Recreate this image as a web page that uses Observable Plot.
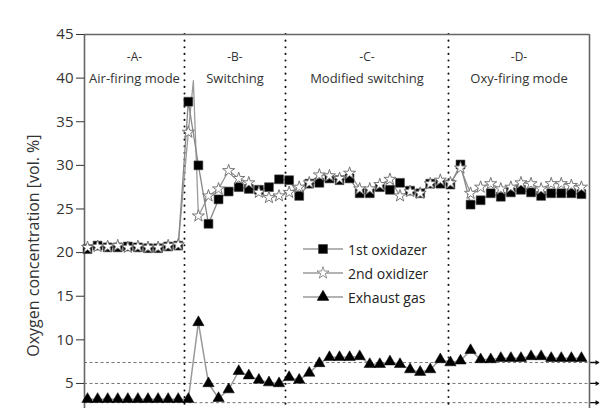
<!DOCTYPE html>
<html><head><meta charset="utf-8">
<script src="https://cdn.jsdelivr.net/npm/d3@7"></script>
<script src="https://cdn.jsdelivr.net/npm/@observablehq/plot@0.6"></script>
<style>
body{margin:0;background:#fff;}
#chart{position:relative;width:606px;height:408px;overflow:hidden;font-family:"Open Sans",sans-serif;}
#legend{position:absolute;left:302px;top:237px;}
.row{display:flex;align-items:center;height:24px;font-size:14px;color:#222;}
.row svg{margin-right:4px;display:block;}
</style></head><body><div id="chart"></div>
<script>
// ---- data ----
const sectionTags = ["-A-", "-B-", "-C-", "-D-"];
const sectionNames = ["Air-firing mode", "Switching", "Modified switching", "Oxy-firing mode"];
const boundaries = [9.62, 19.64, 35.81];
const refLevels = [7.4, 5.0, 2.8];
const yTicks = [5, 10, 15, 20, 25, 30, 35, 40, 45];
const seriesNames = ["1st oxidazer", "2nd oxidizer", "Exhaust gas"];
const yLabel = "Oxygen concentration [vol. %]";

const oxid1 = [20.4, 20.8, 20.6, 20.6, 20.7, 20.6, 20.5, 20.5, 20.7, 20.8,
  37.3, 30.0, 23.3, 26.1, 27.0, 27.5, 27.3, 27.2, 27.5, 28.4, 28.3,
  26.5, 27.9, 28.0, 28.5, 28.3, 28.5, 26.8, 26.8, 27.5, 27.2, 28.0, 27.1, 26.8, 27.9, 27.9, 27.8,
  30.1, 25.5, 26.0, 26.8, 26.4, 26.9, 27.2, 26.9, 26.5, 26.8, 26.8, 26.8, 26.7];
const oxid2 = [20.6, 20.7, 20.7, 20.8, 20.6, 20.7, 20.6, 20.6, 20.8, 20.9,
  33.8, 24.2, 26.5, 27.3, 29.4, 28.5, 28.0, 26.9, 26.3, 26.5, 26.9,
  27.5, 28.0, 28.9, 28.8, 28.5, 29.1, 27.3, 27.3, 27.8, 28.4, 26.5, 27.0, 26.8, 27.9, 28.3, 28.0,
  29.7, 26.8, 27.5, 27.9, 27.3, 27.5, 28.0, 27.9, 27.3, 27.9, 27.9, 27.7, 27.5];
const oxid2SpikeX = 10.5, oxid2SpikeY = 39.7;
const exhaust = [3.2, 3.2, 3.2, 3.2, 3.2, 3.2, 3.2, 3.2, 3.2, 3.2, 3.2,
  12.0, 5.0, 3.3, 4.3, 6.4, 5.9, 5.4, 5.1, 5.0, 5.7,
  5.4, 6.2, 7.3, 8.0, 8.0, 8.0, 8.1, 7.2, 7.2, 7.5,
  7.2, 6.6, 6.3, 6.6, 7.75, 7.4, 7.6, 8.8, 7.75, 7.75,
  7.9, 7.9, 7.9, 8.1, 8.1, 7.9, 7.9, 7.9, 7.9];

// ---- build ----
const xDomain = [-0.3, 49.8];
const s1 = oxid1.map((v, i) => ({x: i, y: v}));
const s2 = oxid2.map((v, i) => ({x: i, y: v}));
const s2line = [...s2, {x: oxid2SpikeX, y: oxid2SpikeY}].sort((a, b) => a.x - b.x);
const s3 = exhaust.map((v, i) => ({x: i, y: v}));
const edges = [xDomain[0], ...boundaries, xDomain[1]];
const sections = sectionTags.map((t, i) => ({tag: t, name: sectionNames[i], cx: (edges[i] + edges[i + 1]) / 2}));

const lineGray = "#9a9a9a";
const plot = Plot.plot({
  width: 606, height: 408,
  marginLeft: 84, marginRight: 17, marginTop: 34, marginBottom: 0,
  x: {domain: xDomain, axis: null},
  y: {domain: [2.13, 45], axis: null},
  style: {fontFamily: "'Open Sans', sans-serif", overflow: "visible", background: "#fff"},
  marks: [
    Plot.ruleY(refLevels, {stroke: "#777", strokeWidth: 1, strokeDasharray: "3,2.5"}),
    Plot.arrow(refLevels, {x1: xDomain[1], x2: xDomain[1] + 0.9, y1: d => d, y2: d => d, headLength: 5, stroke: "#111", strokeWidth: 1.3}),
    Plot.ruleX(boundaries, {stroke: "#111", strokeWidth: 2, strokeDasharray: "0.1,6.5", strokeLinecap: "round"}),
    Plot.ruleY([45], {stroke: "#666", strokeWidth: 1.6}),
    Plot.ruleX(xDomain, {stroke: "#666", strokeWidth: 1.6}),
    Plot.axisY({ticks: yTicks, tickSize: 8, tickPadding: 3, fontSize: 15, color: "#333", label: null}),
    Plot.text([yLabel], {frameAnchor: "left", y: 20.8, dx: -51, rotate: -90, textAnchor: "middle", fontSize: 16, fill: "#333"}),
    Plot.text(sections, {x: "cx", text: "tag", frameAnchor: "top", dy: 18, fontSize: 12, fill: "#333"}),
    Plot.text(sections, {x: "cx", text: "name", frameAnchor: "top", dy: 39, fontSize: 13, fill: "#333"}),
    Plot.line(s3, {x: "x", y: "y", stroke: lineGray, strokeWidth: 1.5}),
    Plot.line(s2line, {x: "x", y: "y", stroke: lineGray, strokeWidth: 1.3}),
    Plot.line(s1, {x: "x", y: "y", stroke: "#888", strokeWidth: 1.3}),
    Plot.dot(s3, {x: "x", y: "y", symbol: "triangle", r: 4.2, fill: "#000", stroke: "#000", strokeWidth: 0.5}),
    Plot.dot(s1, {x: "x", y: "y", symbol: "square", r: 5, fill: "#000", stroke: "#444", strokeWidth: 0.6}),
    Plot.dot(s2, {x: "x", y: "y", symbol: "star", r: 3.8, fill: "#fff", stroke: "#777", strokeWidth: 1})
  ]
});
const chart = document.getElementById("chart");
chart.appendChild(plot);

// legend
const legend = document.createElement("div");
legend.id = "legend";
const syms = [["square", "#000", "#444", 5], ["star", "#fff", "#777", 3.8], ["triangle", "#000", "#000", 4.2]];
seriesNames.forEach((name, i) => {
  const row = document.createElement("div");
  row.className = "row";
  const [sym, fill, stroke, r] = syms[i];
  const symType = {square: d3.symbolSquare, star: d3.symbolStar, triangle: d3.symbolTriangle}[sym];
  const path = d3.symbol(symType, Math.PI * r * r)();
  row.innerHTML = `<svg width="42" height="24"><line x1="1" x2="41" y1="12" y2="12" stroke="${lineGray}" stroke-width="1.4"/><path d="${path}" transform="translate(21,12)" fill="${fill}" stroke="${stroke}" stroke-width="0.8"/></svg><span>${name}</span>`;
  legend.appendChild(row);
});
chart.appendChild(legend);
</script>
</body></html>
